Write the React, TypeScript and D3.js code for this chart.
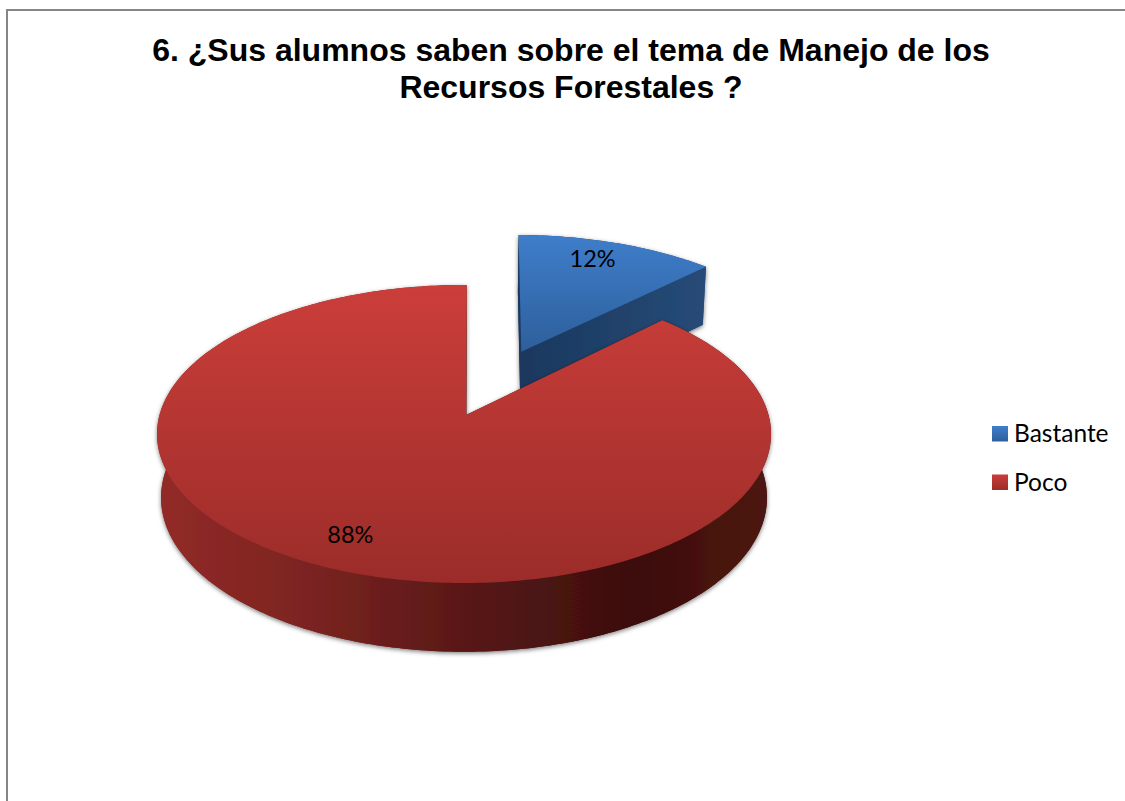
import React from "react";
import * as d3 from "d3";

const categories = ["Bastante", "Poco"];
const seriesValues = [12.4, 87.6];
const titleLines = [
  "6. ¿Sus alumnos saben sobre el tema de Manejo de los",
  "Recursos Forestales ?",
];

const W = 1125;
const H = 801;
const APEX_X = 464;
const TOP_APEX_Y = 415;
const BOTTOM_APEX_Y = 478;
const TOP_A = 146.6;
const BOTTOM_A = 151.6;
const TOP_B = 304.5;
const BOTTOM_B = 300.5;
const PERSP = 0.1275;
const START = 0.01;

const explode = [0.495, 0];
const explodeShiftX = [0.01, 0];
const apexShiftPx = [-1, 2];
const labelR = [0.82, 0.8];
const labelDx = [-9, -9];
const labelDy = [-3, 0];

type P = [number, number];

const proj = (u: number, v: number, bottom: boolean): P => {
  const d = 1 + PERSP * v;
  const x = APEX_X + ((bottom ? BOTTOM_B : TOP_B) * u) / d;
  const y = (bottom ? BOTTOM_APEX_Y : TOP_APEX_Y) - ((bottom ? BOTTOM_A : TOP_A) * v) / d;
  return [x, y];
};

const pie = d3.pie<number>().sort(null).startAngle(START).endAngle(START + Math.PI * 2)(seriesValues);
const line = d3.line<P>().curve(d3.curveLinear);

function sliceGeom(i: number) {
  const s = pie[i];
  const mid = (s.startAngle + s.endAngle) / 2;
  const ou = explode[i] * Math.sin(mid) + explodeShiftX[i];
  const ov = explode[i] * Math.cos(mid);
  const n = Math.max(8, Math.ceil((s.endAngle - s.startAngle) * 60));
  const angles = d3.range(n + 1).map((k) => s.startAngle + ((s.endAngle - s.startAngle) * k) / n);
  const arc = (b: boolean) => angles.map((a) => proj(ou + Math.sin(a), ov + Math.cos(a), b));
  const topArc = arc(false);
  const botArc = arc(true);
  const shift = (p: P): P => [p[0] + apexShiftPx[i], p[1]];
  const topApex = shift(proj(ou, ov, false));
  const botApex = shift(proj(ou, ov, true));
  const label = proj(ou + labelR[i] * Math.sin(mid), ov + labelR[i] * Math.cos(mid), false);
  return {
    top: line([topApex, ...topArc])! + "Z",
    bottom: line([botApex, ...botArc])! + "Z",
    rim: line([...topArc, ...botArc.slice().reverse()])! + "Z",
    cutA: line([topApex, topArc[0], botArc[0], botApex])! + "Z",
    cutB: line([topApex, topArc[n], botArc[n], botApex])! + "Z",
    label,
  };
}

const geoms = categories.map((_, i) => sliceGeom(i));
const topFill = ["url(#blueTop)", "url(#redTop)"];
const wallFill = ["url(#blueWall)", "url(#redWall)"];
const legendSwatch = ["url(#blueLegend)", "url(#redLegend)"];
const legendY = d3.scalePoint<string>().domain(categories).range([433.5, 482]);
const pct = (v: number) => `${Math.round(v)}%`;

export default function App() {
  return (
    <svg
      width={W}
      height={H}
      viewBox={`0 0 ${W} ${H}`}
      style={{ position: "absolute", left: 0, top: 0, background: "#fff" }}
    >
      <defs>
        <linearGradient id="redTop" gradientUnits="userSpaceOnUse" x1="0" y1="285" x2="0" y2="583">
          <stop offset="0" stopColor="#cb3e3a" />
          <stop offset="1" stopColor="#9b2c29" />
        </linearGradient>
        <linearGradient id="blueTop" gradientUnits="userSpaceOnUse" x1="0" y1="234" x2="0" y2="352">
          <stop offset="0" stopColor="#3f7ecb" />
          <stop offset="1" stopColor="#2d5f9b" />
        </linearGradient>
        <linearGradient id="redWall" gradientUnits="userSpaceOnUse" x1="160" y1="0" x2="768" y2="0">
          <stop offset="0" stopColor="#922a27" />
          <stop offset="0.24" stopColor="#7c2421" />
          <stop offset="0.5" stopColor="#591817" />
          <stop offset="0.78" stopColor="#3c0e0d" />
          <stop offset="1" stopColor="#4e1512" />
        </linearGradient>
        <linearGradient id="blueWall" gradientUnits="userSpaceOnUse" x1="520" y1="0" x2="704" y2="0">
          <stop offset="0" stopColor="#1a385e" />
          <stop offset="1" stopColor="#264b77" />
        </linearGradient>
        <linearGradient id="blueLegend" x1="0" y1="0" x2="0" y2="1">
          <stop offset="0" stopColor="#3f7ecb" />
          <stop offset="1" stopColor="#2d5f9b" />
        </linearGradient>
        <linearGradient id="redLegend" x1="0" y1="0" x2="0" y2="1">
          <stop offset="0" stopColor="#cb3e3a" />
          <stop offset="1" stopColor="#9b2c29" />
        </linearGradient>
        <filter id="soft" x="-10%" y="-10%" width="120%" height="120%">
          <feDropShadow dx="0" dy="1.5" stdDeviation="2.2" floodColor="#000" floodOpacity="0.5" />
        </filter>
      </defs>

      <rect x={7} y={10} width={W + 20} height={H + 20} fill="#fff" stroke="#868686" strokeWidth={2} />

      <g fontFamily="'Liberation Sans', Arial, sans-serif" fontWeight={700} fontSize={32} fill="#000" textAnchor="middle">
        {titleLines.map((t, i) => (
          <text key={i} x={571} y={61 + i * 37}>
            {t}
          </text>
        ))}
      </g>

      {geoms.map((g, i) => (
        <g key={categories[i]}>
          <g filter="url(#soft)">
            <path d={g.bottom} fill={wallFill[i]} />
            <path d={g.rim} fill={wallFill[i]} />
            <path d={g.cutA} fill={wallFill[i]} />
            <path d={g.cutB} fill={wallFill[i]} />
          </g>
          <path d={g.top} fill={topFill[i]} />
        </g>
      ))}

      <g fontFamily="Lato, sans-serif" fontSize={23.5} fill="#000" textAnchor="middle">
        {geoms.map((g, i) => (
          <text key={i} x={g.label[0] + labelDx[i]} y={g.label[1] + labelDy[i]} dominantBaseline="central">
            {pct(seriesValues[i])}
          </text>
        ))}
      </g>

      {categories.map((c) => (
        <g key={c}>
          <rect
            x={992}
            y={legendY(c)! - 7.5}
            width={16}
            height={15.5}
            fill={legendSwatch[categories.indexOf(c)]}
          />
          <text x={1014} y={legendY(c)! - 1} dominantBaseline="central" fontFamily="Lato, sans-serif" fontSize={24.5} fill="#000">
            {c}
          </text>
        </g>
      ))}
    </svg>
  );
}
